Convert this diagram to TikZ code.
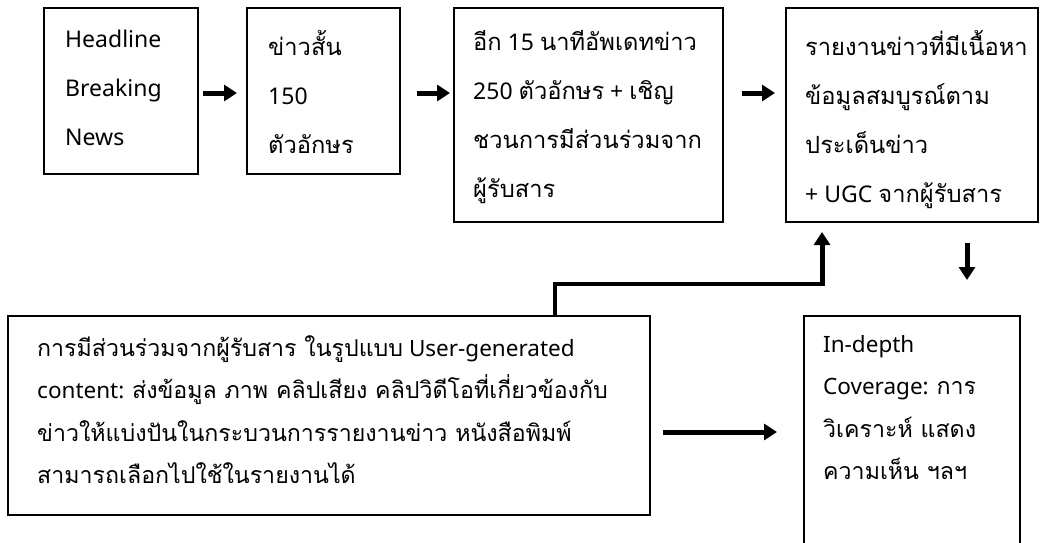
\documentclass[tikz,border=0pt]{standalone}
\usepackage{fontspec}
\setmainfont{Noto Sans}
\newfontfamily\thf[Script=Thai,Scale=1.03]{Loma}
\usetikzlibrary{arrows.meta,calc}
\newcommand{\T}[1]{{\thf #1}}
\tikzset{
  x=1pt,y=-1pt,
  box/.style={draw,line width=1.6pt,anchor=north west,inner sep=0pt,outer sep=0pt},
  txt/.style={anchor=north west,align=left,inner sep=0pt,font=\fontsize{23}{49}\selectfont},
  txtb/.style={anchor=north west,align=left,inner sep=0pt,font=\fontsize{22.5}{42.5}\selectfont},
  arr/.style={line width=5pt,-{Triangle[length=13pt,width=16pt]}},
  conn/.style={line width=3.5pt},
}
\begin{document}
\begin{tikzpicture}
\useasboundingbox[fill=white] (0,0) rectangle (1041,543);
% boxes
\node[box,minimum width=154,minimum height=166] (b1) at (44,8) {};
\node[box,minimum width=153,minimum height=166] (b2) at (247,8) {};
\node[box,minimum width=269,minimum height=214] (b3) at (454,8) {};
\node[box,minimum width=252,minimum height=214] (b4) at (786,8) {};
\node[box,minimum width=642,minimum height=199] (b5) at (8,316) {};
\node[box,minimum width=216,minimum height=260] (b6) at (804,316) {};
% texts
\node[txt] (t1) at ($(b1.north west)+(21,22)$) {Headline\\Breaking\\News};
\node[txt] (t2) at ($(b2.north west)+(21,22)$) {\T{ข่าวสั้น}\\150\\\T{ตัวอักษร}};
\node[txt] (t3) at ($(b3.north west)+(19,22)$) {\T{อีก} 15 \T{นาทีอัพเดทข่าว}\\250 \T{ตัวอักษร} + \T{เชิญ}\\\T{ชวนการมีส่วนร่วมจาก}\\\T{ผู้รับสาร}};
\node[txt] (t4) at ($(b4.north west)+(19,22)$) {\T{รายงานข่าวที่มีเนื้อหา}\\\T{ข้อมูลสมบูรณ์ตาม}\\\T{ประเด็นข่าว}\\+ UGC \T{จากผู้รับสาร}};
\node[txtb] (t5) at ($(b5.north west)+(29,19)$) {\T{การมีส่วนร่วมจากผู้รับสาร ในรูปแบบ} User-generated\\content: \T{ส่งข้อมูล ภาพ คลิปเสียง คลิปวิดีโอที่เกี่ยวข้องกับ}\\\T{ข่าวให้แบ่งปันในกระบวนการรายงานข่าว หนังสือพิมพ์}\\\T{สามารถเลือกไปใช้ในรายงานได้}};
\node[txtb] (t6) at ($(b6.north west)+(19,19)$) {In-depth\\Coverage: \T{การ}\\\T{วิเคราะห์ แสดง}\\\T{ความเห็น ฯลฯ}};
% arrows
\coordinate (ay) at (0,93);
\coordinate (by) at (0,432);
\draw[arr] ($(b1.east |- ay)+(5,0)$) -- ($(b2.west |- ay)+(-10,0)$);
\draw[arr] ($(b2.east |- ay)+(17,0)$) -- ($(b3.west |- ay)+(-4,0)$);
\draw[arr] ($(b3.east |- ay)+(19,0)$) -- ($(b4.west |- ay)+(-11,0)$);
\coordinate (up0) at ($(b5.north west)+(547,0)$);
\coordinate (up1) at ($(b4.south west)+(36,0)$);
\draw[conn] (up0) -- (up0 |- 0,284) -- ($(up1 |- 0,284)+(1,0)$);
\draw[arr] (up1 |- 0,286) -- ($(up1)+(0,10)$);
\draw[arr] ($(b4.south east)+(-71,21)$) -- ($(b4.south east)+(-71,58)$);
\draw[arr] ($(b5.east |- by)+(13,0)$) -- ($(b6.west |- by)+(-27,0)$);
\end{tikzpicture}
\end{document}
